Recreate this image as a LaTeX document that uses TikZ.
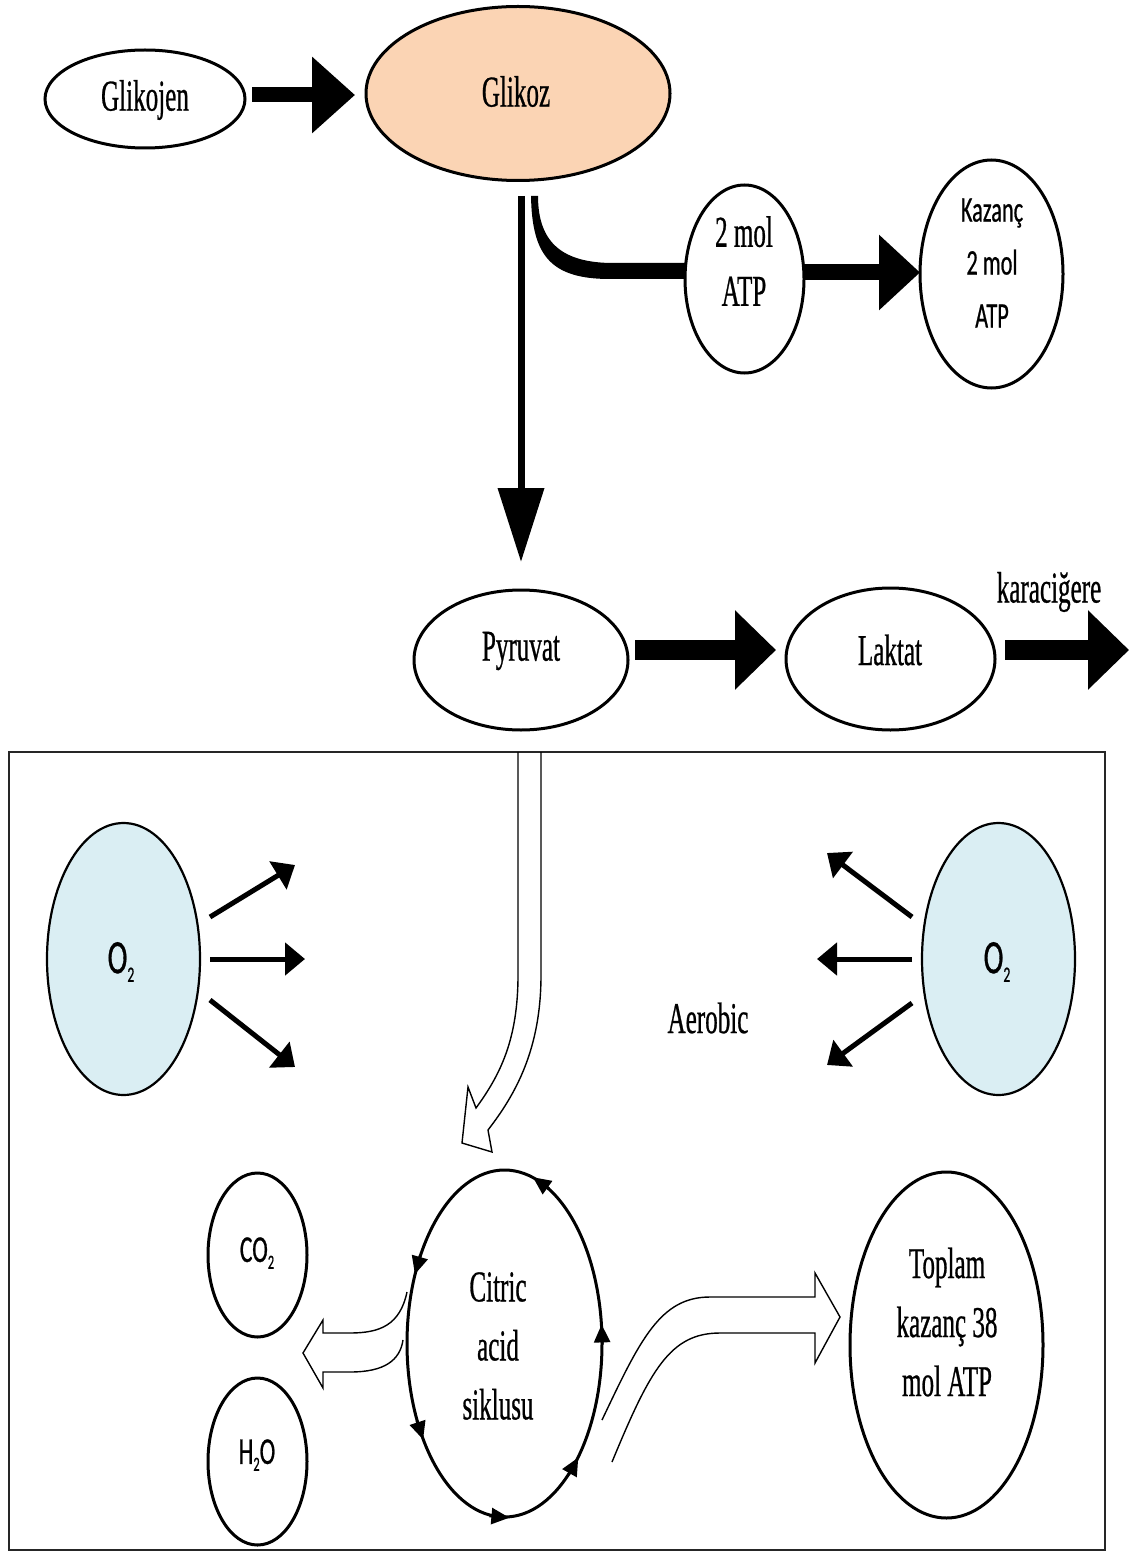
\documentclass[tikz,border=0pt]{standalone}
\usepackage{fontspec}
\setmainfont{Liberation Serif}
\newfontfamily\srf[FakeStretch=0.57,FakeBold=0.6]{Liberation Serif}
\newfontfamily\snf[FakeStretch=0.62,FakeBold=0.6]{Carlito}
\usetikzlibrary{shapes.geometric,arrows.meta}
\definecolor{peach}{HTML}{FBD4B4}
\definecolor{paleblue}{HTML}{DAEEF3}
\newcommand\lowtwo[1]{\raisebox{-0.18em}{\fontsize{#1}{#1}\selectfont 2}}
\begin{document}
\begin{tikzpicture}[x=0.5pt,y=-0.5pt,
  blob/.style={ellipse,draw,line width=1.5pt,inner sep=0pt,outer sep=0pt},
  txt/.style={font=\srf\fontsize{22}{29.5}\selectfont,align=center,inner sep=0pt},
  stxt/.style={font=\snf\fontsize{18}{26.5}\selectfont,align=center,inner sep=0pt},
  bigarrow/.style n args={3}{line width=#1,-{Triangle[length=#2,width=#3]}},
  thinarrow/.style={line width=2.5pt,-{Triangle[length=10pt,width=16pt]}},
  hollow/.style={draw,line width=0.7pt,line join=miter},
  cyc/.style={line width=1.4pt,-{Triangle[length=9pt,width=8pt]}}]
\useasboundingbox (0,0) rectangle (1129,1551);

% ---------- upper part ----------
\node[blob,minimum width=100pt,minimum height=49pt] (glikojen) at (145,99) {};
\node[txt] (glikojentext) at (145,100) {Glikojen};
\node[blob,fill=peach,minimum width=152pt,minimum height=87pt] (glikoz) at (518,93.5) {};
\node[txt] (glikoztext) at (516,91.5) {Glikoz};
\node[blob,minimum width=59.5pt,minimum height=94pt] (atp2) at (744.5,279) {};
\node[txt] (atp2text) at (744,261) {2 mol\\ATP};
\node[blob,minimum width=71.5pt,minimum height=114pt] (kaz) at (991.5,274) {};
\node[stxt] (kaztext) at (992,263) {Kazanç\\2 mol\\ATP};
\node[blob,minimum width=107pt,minimum height=70pt] (pyr) at (521,660) {};
\node[txt] (pyrtext) at (521,651) {Pyruvat};
\node[blob,minimum width=104.5pt,minimum height=71pt] (lak) at (890.5,659) {};
\node[txt] (laktext) at (890,650) {Laktat};
\node[txt] (karaciger) at (1049,592) {karaciğere};
\coordinate (out) at (1129,650);

\draw[bigarrow={7.5pt}{21.5pt}{37pt}] ([shift={(3.5pt,2pt)}]glikojen.east) -- ([shift={(-5.5pt,-0.75pt)}]glikoz.west);
\draw[bigarrow={3.5pt}{37pt}{22.5pt}] ([shift={(1.5pt,-7.75pt)}]glikoz.south) -- ([yshift=14pt]pyr.north);
\fill (531,196) .. controls (532,255) and (550,279) .. (610,279) -- (atp2.west) -- ([yshift=8pt]atp2.west) -- (610,263) .. controls (565,262) and (538,245) .. (538,196) -- cycle;
\draw[bigarrow={8pt}{20.5pt}{36.5pt}] ([yshift=3.25pt]atp2.east) -- ([yshift=0.75pt]kaz.west);
\draw[bigarrow={10pt}{20.5pt}{38.5pt}] ([shift={(3.5pt,5pt)}]pyr.east) -- ([shift={(-5pt,4.5pt)}]lak.west);
\draw[bigarrow={10pt}{20.5pt}{38.5pt}] ([shift={(5pt,4.5pt)}]lak.east) -- (out);

% ---------- aerobic frame ----------
\node[draw=black!85,line width=1.2pt,minimum width=548pt,minimum height=399pt,inner sep=0pt,outer sep=0pt] (frame) at (557,1151) {};

\draw[hollow] ([xshift=-19.5pt]frame.north) -- (518,975) .. controls (518,1040) and (500,1075) .. (476,1108) -- (468,1087) -- (462,1143) -- (492,1152) -- (488,1130) .. controls (515,1095) and (541,1050) .. (541,975) -- ([xshift=-8pt]frame.north);

\node[blob,line width=1.1pt,fill=paleblue,minimum width=76.5pt,minimum height=136pt] (o2l) at (123.5,959) {};
\node[stxt,font=\snf\fontsize{24}{24}\selectfont] (o2ltext) at (121,962) {O\lowtwo{11}};
\node[blob,line width=1.1pt,fill=paleblue,minimum width=76.5pt,minimum height=136pt] (o2r) at (998.5,959) {};
\node[stxt,font=\snf\fontsize{24}{24}\selectfont] (o2rtext) at (997,962) {O\lowtwo{11}};
\node[txt] (aerobic) at (708,1018) {Aerobic};

\coordinate (l1) at (295,865);
\coordinate (l2) at (305,959);
\coordinate (l3) at (295,1067);
\coordinate (r1) at (827,853);
\coordinate (r2) at (817,959);
\coordinate (r3) at (827,1065);
\draw[thinarrow] ([shift={(5pt,21pt)}]o2l.east) -- (l1);
\draw[thinarrow] ([xshift=5pt]o2l.east) -- (l2);
\draw[thinarrow] ([shift={(5pt,-20.5pt)}]o2l.east) -- (l3);
\draw[thinarrow] ([shift={(-5pt,21pt)}]o2r.west) -- (r1);
\draw[thinarrow] ([xshift=-5pt]o2r.west) -- (r2);
\draw[thinarrow] ([shift={(-5pt,-22pt)}]o2r.west) -- (r3);

% ---------- cycle and products ----------
\draw[hollow] (407,1292) .. controls (400,1325) and (380,1333) .. (350,1333) -- (323,1333) -- (323,1320) -- (303,1353) -- (323,1388) -- (323,1372) -- (350,1372) .. controls (385,1372) and (400,1360) .. (403,1340);
\draw[hollow] (602,1420) .. controls (640,1340) and (660,1297) .. (710,1297) -- (815,1297) -- (815,1273) -- (840,1317) -- (815,1363) -- (815,1333) -- (720,1333) .. controls (670,1333) and (650,1370) .. (612,1462);

\node[blob,minimum width=97.5pt,minimum height=173.5pt] (citric) at (504.5,1343.5) {};
\node[txt] (citrictext) at (498,1346) {Citric\\acid\\siklusu};
\draw[cyc] (549.1,1188.8) -- (532.9,1177.2);
\draw[cyc] (420.4,1255.1) -- (414.9,1274.3);
\draw[cyc] (602.2,1344.4) -- (601.6,1324.4);
\draw[cyc] (416.9,1420.5) -- (423.1,1439.5);
\draw[cyc] (489.4,1515.9) -- (509.4,1517.7);
\draw[cyc] (568.5,1474.9) -- (578.3,1457.5);

\node[blob,minimum width=96.5pt,minimum height=173pt] (toplam) at (946.5,1345) {};
\node[txt] (toplamtext) at (947,1322) {Toplam\\kazanç 38\\mol ATP};
\node[blob,minimum width=49.5pt,minimum height=82pt] (co2) at (257.5,1255) {};
\node[stxt,font=\snf\fontsize{19}{19}\selectfont] (co2text) at (257,1253) {CO\lowtwo{10}};
\node[blob,minimum width=49.5pt,minimum height=83.5pt] (h2o) at (257.5,1461.5) {};
\node[stxt,font=\snf\fontsize{19}{19}\selectfont] (h2otext) at (257,1455) {H\lowtwo{10}O};
\end{tikzpicture}
\end{document}
